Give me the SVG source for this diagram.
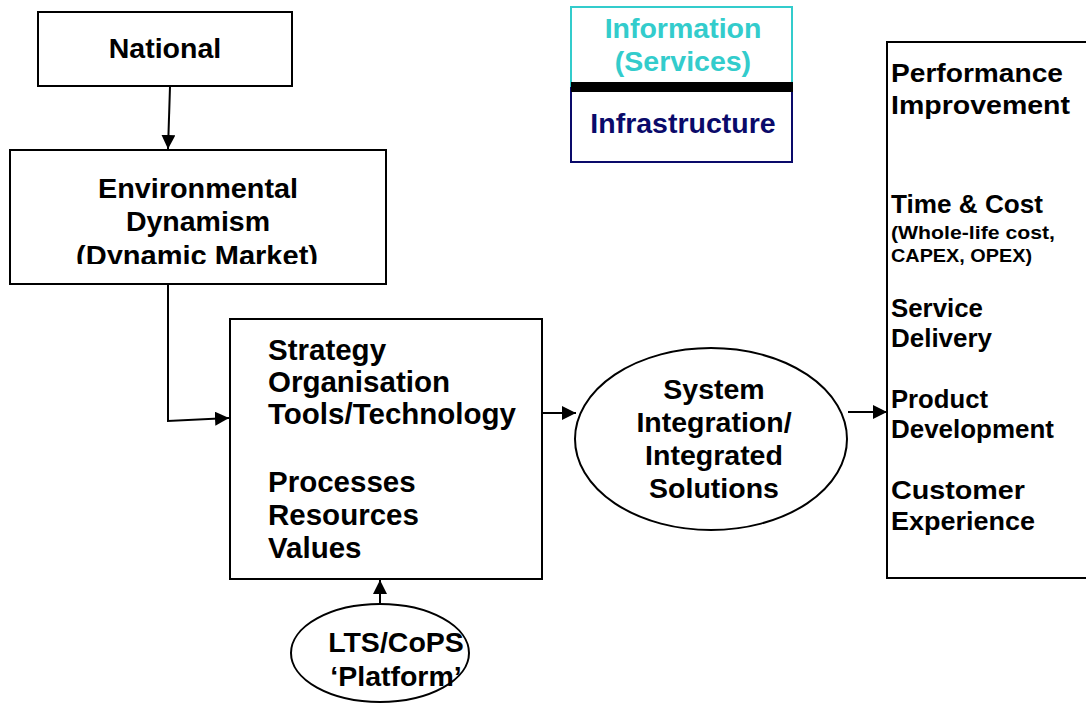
<svg xmlns="http://www.w3.org/2000/svg" width="1086" height="704" viewBox="0 0 1086 704">
  <style>
    .box { fill: #ffffff; stroke: #000000; stroke-width: 2; }
    .lbl { font-family: "Liberation Sans", Arial, Helvetica, sans-serif; font-weight: bold; fill: #000000; }
    .big { font-size: 28.5px; }
    .list { font-size: 29.5px; }
    .mid { font-size: 25px; }
    .small { font-size: 18px; }
    .mid-anchor { text-anchor: middle; }
    .wire { fill: none; stroke: #000000; stroke-width: 2; }
  </style>
  <defs>
    <marker id="arrow" viewBox="0 0 14 14" refX="14" refY="7" markerWidth="14" markerHeight="14" markerUnits="userSpaceOnUse" orient="auto">
      <path d="M0,0 L14,7 L0,14 Z" fill="#000000"/>
    </marker>
    <clipPath id="envClip">
      <rect x="10" y="150" width="376" height="114"/>
    </clipPath>
  </defs>

  <rect x="0" y="0" width="1086" height="704" fill="#ffffff"/>

  <!-- connectors -->
  <g id="connectors">
    <path class="wire" d="M170,87 L168,149" marker-end="url(#arrow)"/>
    <path class="wire" d="M168,285 L168,421 L229,418" marker-end="url(#arrow)"/>
    <path class="wire" d="M542,413 L576,413" marker-end="url(#arrow)"/>
    <path class="wire" d="M848,412 L887,412" marker-end="url(#arrow)"/>
    <path class="wire" d="M380,604 L380,580" marker-end="url(#arrow)"/>
  </g>

  <g id="national">
    <rect class="box" x="38" y="12" width="254" height="74"/>
    <text class="lbl big mid-anchor" x="165" y="58">National</text>
  </g>

  <g id="environment">
    <rect class="box" x="10" y="150" width="376" height="134"/>
    <g clip-path="url(#envClip)">
      <text class="lbl big mid-anchor" x="198" y="198" textLength="200" lengthAdjust="spacingAndGlyphs">Environmental</text>
      <text class="lbl big mid-anchor" x="198" y="231">Dynamism</text>
      <text class="lbl big mid-anchor" x="197" y="265" textLength="242" lengthAdjust="spacingAndGlyphs">(Dynamic Market)</text>
    </g>
  </g>

  <g id="info-infra">
    <rect x="571" y="7" width="221" height="80" fill="#ffffff" stroke="#33CCCC" stroke-width="2"/>
    <rect x="571" y="88" width="221" height="74" fill="#ffffff" stroke="#0A0A6A" stroke-width="2"/>
    <rect x="571" y="82" width="222" height="10" fill="#000000"/>
    <text class="lbl big mid-anchor" x="683" y="38" style="fill:#33CCCC">Information</text>
    <text class="lbl big mid-anchor" x="683" y="71" style="fill:#33CCCC">(Services)</text>
    <text class="lbl big mid-anchor" x="683" y="133" style="fill:#0A0A6A">Infrastructure</text>
  </g>

  <g id="capabilities">
    <rect class="box" x="230" y="319" width="312" height="260"/>
    <text class="lbl list" x="268" y="360">Strategy</text>
    <text class="lbl list" x="268" y="392">Organisation</text>
    <text class="lbl list" x="268" y="424">Tools/Technology</text>
    <text class="lbl list" x="268" y="492">Processes</text>
    <text class="lbl list" x="268" y="525">Resources</text>
    <text class="lbl list" x="268" y="558">Values</text>
  </g>

  <g id="integration">
    <ellipse class="box" cx="711" cy="439" rx="136" ry="91"/>
    <text class="lbl big mid-anchor" x="714" y="399">System</text>
    <text class="lbl big mid-anchor" x="714" y="432">Integration/</text>
    <text class="lbl big mid-anchor" x="714" y="465">Integrated</text>
    <text class="lbl big mid-anchor" x="714" y="498">Solutions</text>
  </g>

  <g id="platform">
    <ellipse class="box" cx="380" cy="653" rx="89" ry="49"/>
    <text class="lbl big mid-anchor" x="396" y="652">LTS/CoPS</text>
    <text class="lbl big mid-anchor" x="396" y="686">‘Platform’</text>
  </g>

  <g id="performance">
    <rect class="box" x="887" y="42" width="220" height="536"/>
    <text class="lbl mid" x="891" y="82" textLength="172" lengthAdjust="spacingAndGlyphs">Performance</text>
    <text class="lbl mid" x="891" y="114" textLength="179" lengthAdjust="spacingAndGlyphs">Improvement</text>
    <text class="lbl mid" x="891" y="213" textLength="152" lengthAdjust="spacingAndGlyphs">Time &amp; Cost</text>
    <text class="lbl small" x="891" y="239" textLength="164" lengthAdjust="spacingAndGlyphs">(Whole-life cost,</text>
    <text class="lbl small" x="891" y="262" textLength="141" lengthAdjust="spacingAndGlyphs">CAPEX, OPEX)</text>
    <text class="lbl mid" x="891" y="317" textLength="92" lengthAdjust="spacingAndGlyphs">Service</text>
    <text class="lbl mid" x="891" y="347" textLength="101" lengthAdjust="spacingAndGlyphs">Delivery</text>
    <text class="lbl mid" x="891" y="408" textLength="97" lengthAdjust="spacingAndGlyphs">Product</text>
    <text class="lbl mid" x="891" y="438" textLength="163" lengthAdjust="spacingAndGlyphs">Development</text>
    <text class="lbl mid" x="891" y="499" textLength="134" lengthAdjust="spacingAndGlyphs">Customer</text>
    <text class="lbl mid" x="891" y="530" textLength="144" lengthAdjust="spacingAndGlyphs">Experience</text>
  </g>
</svg>
